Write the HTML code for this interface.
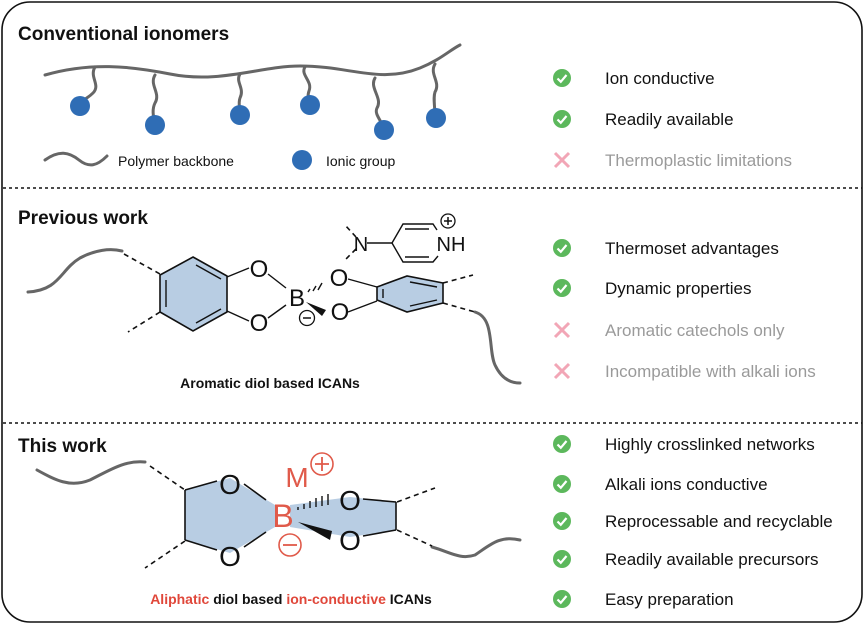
<!DOCTYPE html>
<html><head><style>
body{margin:0;background:#fff;}
svg{display:block;font-family:"Liberation Sans",Arial,sans-serif;}
.t{font-size:17px;fill:#111}
.g{font-size:17px;fill:#9a9a9a}
</style></head><body>
<svg width="865" height="626" viewBox="0 0 865 626" xmlns="http://www.w3.org/2000/svg">
<rect x="2" y="2" width="860" height="620" rx="28" fill="#fff" stroke="#111" stroke-width="1.6"/>
<line x1="3" y1="188" x2="862" y2="188" stroke="#111" stroke-width="1.5" stroke-dasharray="3,3"/>
<line x1="3" y1="423" x2="862" y2="423" stroke="#111" stroke-width="1.5" stroke-dasharray="3,3"/>

<!-- Section 1 -->
<text x="18" y="40" font-size="19" font-weight="bold" fill="#111">Conventional ionomers</text>
<g fill="none" stroke="#666" stroke-width="3" stroke-linecap="round">
<path d="M45 75 C90 62,130 66,170 74 C220 84,260 66,300 66 C350 66,380 84,420 68 C440 60,450 50,460 45"/>
<path d="M95 67 c-6 10,6 18,-2 26 c-6 6,-10 6,-13 12"/>
<path d="M155 75 c-6 10,6 18,0 28 c-3 6,-2 12,0 22"/>
<path d="M240 74 c-5 8,5 14,0 24 c-2 5,0 10,0 17"/>
<path d="M305 67 c-5 8,8 14,4 24 c-2 5,0 10,1 14"/>
<path d="M375 78 c-6 10,8 20,2 30 c-3 6,4 12,8 22"/>
<path d="M435 64 c-6 10,6 18,0 28 c-2 6,0 14,0 26"/>
<path d="M45 160 c14 -10,24 -8,34 0 c10 8,18 6,28 -4"/>
</g>
<g fill="#2f6db5">
<circle cx="80" cy="106" r="10"/><circle cx="155" cy="125" r="10"/><circle cx="240" cy="115" r="10"/>
<circle cx="310" cy="105" r="10"/><circle cx="384" cy="130" r="10"/><circle cx="436" cy="118" r="10"/>
<circle cx="302" cy="160" r="10"/>
</g>
<text x="118" y="166" font-size="14" fill="#111">Polymer backbone</text>
<text x="326" y="166" font-size="14" fill="#111">Ionic group</text>

<!-- Section 2 -->
<text x="18" y="224" font-size="19" font-weight="bold" fill="#111">Previous work</text>
<g fill="none" stroke="#666" stroke-width="3" stroke-linecap="round">
<path d="M28 292 C60 290,60 270,80 258 C95 250,110 248,122 251"/>
<path d="M475 312 C495 318,488 350,495 365 C502 380,512 383,520 383"/>
</g>
<g stroke="#111" stroke-width="1.6" stroke-dasharray="5,4" fill="none">
<line x1="124" y1="254" x2="160" y2="274"/><line x1="160" y1="312" x2="128" y2="332"/>
<line x1="443" y1="283" x2="473" y2="275"/><line x1="443" y1="303" x2="475" y2="312"/>
<line x1="356" y1="237" x2="345" y2="225"/><line x1="356" y1="249" x2="345" y2="260"/>
</g>
<polygon points="193,257 227,276 227,312 193,331 160,312 160,275" fill="#b8cde3" stroke="#111" stroke-width="1.6"/>
<g stroke="#111" stroke-width="1.4" fill="none">
<line x1="166" y1="280" x2="166" y2="307"/><line x1="196" y1="265" x2="221" y2="279"/><line x1="196" y1="323" x2="221" y2="309"/>
<line x1="227" y1="277" x2="249" y2="268"/><line x1="227" y1="311" x2="249" y2="321"/>
<line x1="268" y1="274" x2="286" y2="288"/><line x1="268" y1="318" x2="286" y2="305"/>
<line x1="348" y1="279" x2="377" y2="287"/><line x1="348" y1="312" x2="377" y2="301"/>
</g>
<polygon points="377,287 407,276 443,283 443,303 407,312 377,300" fill="#b8cde3" stroke="#111" stroke-width="1.6"/>
<g stroke="#111" stroke-width="1.4">
<line x1="383" y1="289" x2="383" y2="298"/><line x1="410" y1="282" x2="437" y2="287"/><line x1="410" y1="306" x2="437" y2="300"/>
<line x1="308" y1="292" x2="310" y2="289"/><line x1="313" y1="291" x2="316" y2="286"/><line x1="318" y1="290" x2="322" y2="283"/>
<line x1="367" y1="243" x2="392" y2="243"/>
<polyline points="392,243 403,224 433,224 437,230" fill="none"/>
<polyline points="392,243 403,262 433,262 438,256" fill="none"/>
<line x1="405" y1="229" x2="429" y2="229"/><line x1="405" y1="257" x2="429" y2="257"/>
</g>
<polygon points="306,302 326,310 322,316" fill="#111"/>
<g font-size="24" fill="#111" text-anchor="middle">
<text x="259" y="277">O</text><text x="259" y="331">O</text><text x="297" y="306">B</text>
<text x="339" y="286">O</text><text x="340" y="320">O</text>
<text x="361" y="251" font-size="20">N</text><text x="451" y="251" font-size="20">NH</text>
</g>
<circle cx="307" cy="318" r="7.5" fill="none" stroke="#111" stroke-width="1.3"/><line x1="303" y1="318" x2="311" y2="318" stroke="#111" stroke-width="1.5"/>
<circle cx="448" cy="221" r="7" fill="none" stroke="#111" stroke-width="1.3"/><path d="M444 221h8M448 217v8" stroke="#111" stroke-width="1.5"/>
<text x="270" y="388" font-size="14" font-weight="bold" fill="#111" text-anchor="middle">Aromatic diol based ICANs</text>

<!-- Section 3 -->
<text x="18" y="452" font-size="19" font-weight="bold" fill="#111">This work</text>
<g fill="none" stroke="#666" stroke-width="3" stroke-linecap="round">
<path d="M37 470 C55 480,70 488,90 480 C110 470,125 460,145 462"/>
<path d="M432 547 C450 552,460 560,475 555 C490 545,500 535,520 540"/>
</g>
<g stroke="#111" stroke-width="1.6" stroke-dasharray="5,4" fill="none">
<line x1="150" y1="466" x2="185" y2="490"/><line x1="185" y1="541" x2="145" y2="568"/>
<line x1="397" y1="502" x2="435" y2="488"/><line x1="397" y1="530" x2="432" y2="546"/>
</g>
<polygon points="185,490 230,478 275,505 275,527 230,553 185,540" fill="#b8cde3"/>
<polygon points="290,505 350,497 396,502 396,530 350,537 290,527" fill="#b8cde3"/>
<g stroke="#111" stroke-width="1.6" fill="none">
<line x1="185" y1="490" x2="185" y2="540"/><line x1="185" y1="490" x2="217" y2="481"/><line x1="185" y1="540" x2="217" y2="550"/>
<line x1="244" y1="484" x2="266" y2="500"/><line x1="244" y1="547" x2="266" y2="532"/>
<line x1="363" y1="499" x2="396" y2="502"/><line x1="363" y1="536" x2="396" y2="530"/><line x1="396" y1="502" x2="396" y2="530"/>
</g>
<g stroke="#111" stroke-width="1.4">
<line x1="298" y1="510" x2="298" y2="507"/><line x1="304" y1="509" x2="304" y2="504"/><line x1="310" y1="508" x2="310" y2="501"/><line x1="316" y1="507" x2="316" y2="498"/><line x1="322" y1="506" x2="322" y2="496"/><line x1="328" y1="505" x2="328" y2="494"/>
</g>
<polygon points="298,522 332,531 330,540" fill="#111"/>
<g font-size="28" fill="#111" text-anchor="middle">
<text x="230" y="494">O</text><text x="230" y="566">O</text>
<text x="350" y="510">O</text><text x="350" y="550">O</text>
</g>
<text x="283" y="527" font-size="32" fill="#e05a4a" text-anchor="middle">B</text>
<text x="297" y="487" font-size="28" fill="#e05a4a" text-anchor="middle">M</text>
<circle cx="322" cy="464" r="11" fill="none" stroke="#e05a4a" stroke-width="1.6"/><path d="M315 464h14M322 457v14" stroke="#e05a4a" stroke-width="1.8"/>
<circle cx="290" cy="545" r="11" fill="none" stroke="#e05a4a" stroke-width="1.6"/><path d="M283 545h14" stroke="#e05a4a" stroke-width="1.8"/>
<text x="291" y="604" font-size="14" font-weight="bold" text-anchor="middle"><tspan fill="#e0473a">Aliphatic</tspan><tspan fill="#111"> diol based </tspan><tspan fill="#e0473a">ion-conductive</tspan><tspan fill="#111"> ICANs</tspan></text>

<!-- Right lists -->
<defs>
<g id="ck"><circle r="9" fill="#5cb85c"/><path d="M-4.5 0.5 L-1.2 3.8 L4.5 -3" fill="none" stroke="#fff" stroke-width="2.2"/></g>
<g id="cx"><path d="M-7 -7 L7 7 M7 -7 L-7 7" stroke="#f2a6b6" stroke-width="3"/></g>
</defs>
<use href="#ck" x="562" y="78"/><text class="t" x="605" y="84">Ion conductive</text>
<use href="#ck" x="562" y="119"/><text class="t" x="605" y="125">Readily available</text>
<use href="#cx" x="562" y="160"/><text class="g" x="605" y="166">Thermoplastic limitations</text>
<use href="#ck" x="562" y="248"/><text class="t" x="605" y="254">Thermoset advantages</text>
<use href="#ck" x="562" y="288"/><text class="t" x="605" y="294">Dynamic properties</text>
<use href="#cx" x="562" y="330"/><text class="g" x="605" y="336">Aromatic catechols only</text>
<use href="#cx" x="562" y="371"/><text class="g" x="605" y="377">Incompatible with alkali ions</text>
<use href="#ck" x="562" y="444"/><text class="t" x="605" y="450">Highly crosslinked networks</text>
<use href="#ck" x="562" y="484"/><text class="t" x="605" y="490">Alkali ions conductive</text>
<use href="#ck" x="562" y="521"/><text class="t" x="605" y="527">Reprocessable and recyclable</text>
<use href="#ck" x="562" y="559"/><text class="t" x="605" y="565">Readily available precursors</text>
<use href="#ck" x="562" y="599"/><text class="t" x="605" y="605">Easy preparation</text>
</svg>
</body></html>
